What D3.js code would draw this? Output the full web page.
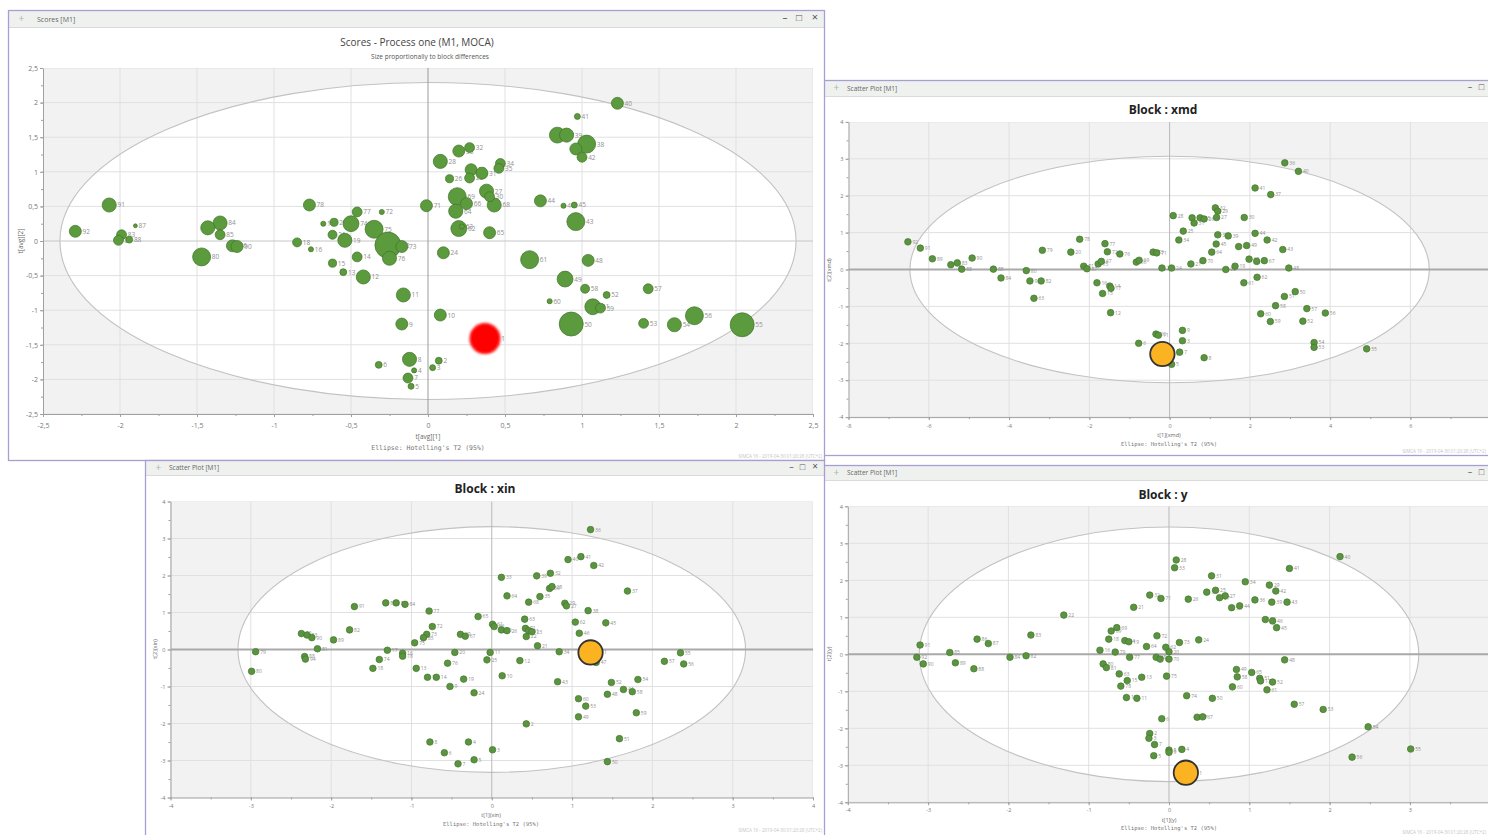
<!DOCTYPE html>
<html><head><meta charset="utf-8">
<script src="https://cdn.jsdelivr.net/npm/d3@7"></script>
<style>
body{margin:0;background:#fff;overflow:hidden}
svg{display:block;font-family:"Open Sans","Noto Sans",sans-serif}
</style>
</head><body>
<svg id="c" width="1488" height="835"></svg>
<script>
// ---------------- DATA ----------------
const highlightSample = "1";

// Main: Scores - Process one (M1, MOCA), t[avg][1] vs t[avg][2], size = block difference
const mainLabels = ["91","92","87","83","89","88","84","79","85","80","86","90","78","18","16","17","20","21","19","74","15","13","14","12","77","72","75","22","76","73","11","9","8","6","4","7","5","71","40","41","37","39","38","36","42","32","33","28","29","31","25","26","34","35","27","69","66","68","30","64","44","47","45","43","62","63","65","24","61","48","49","58","52","57","60","51","59","10","50","53","54","56","55","1","2","3"];
const mainX = [-2.07,-2.29,-1.90,-1.99,-2.01,-1.94,-1.35,-1.43,-1.35,-1.47,-1.27,-1.24,-0.77,-0.85,-0.76,-0.68,-0.61,-0.62,-0.54,-0.50,-0.62,-0.55,-0.46,-0.42,-0.46,-0.30,-0.35,-0.26,-0.25,-0.17,-0.16,-0.17,-0.12,-0.32,-0.09,-0.13,-0.11,-0.01,1.23,0.97,0.84,0.90,1.03,0.96,1.00,0.27,0.20,0.08,0.28,0.35,0.27,0.14,0.47,0.46,0.38,0.19,0.25,0.43,0.40,0.18,0.73,0.88,0.95,0.96,0.20,0.22,0.40,0.10,0.66,1.04,0.89,1.02,1.16,1.43,0.79,1.07,1.12,0.08,0.93,1.40,1.60,1.73,2.04,0.37,0.07,0.03];
const mainY = [0.52,0.14,0.22,0.09,0.01,0.02,0.26,0.19,0.09,-0.23,-0.07,-0.08,0.52,-0.02,-0.12,0.25,0.27,0.09,0.01,0.25,-0.32,-0.45,-0.23,-0.52,0.42,0.42,0.17,-0.06,-0.25,-0.08,-0.78,-1.20,-1.71,-1.79,-1.87,-1.98,-2.10,0.51,1.99,1.80,1.53,1.53,1.40,1.33,1.21,1.35,1.30,1.15,1.03,0.98,0.91,0.90,1.12,1.05,0.72,0.64,0.54,0.52,0.64,0.43,0.58,0.51,0.52,0.28,0.18,0.21,0.12,-0.17,-0.27,-0.28,-0.55,-0.69,-0.78,-0.69,-0.87,-0.95,-0.97,-1.07,-1.20,-1.19,-1.21,-1.08,-1.21,-1.41,-1.73,-1.83];
const mainDiff = [0.47,0.40,0.13,0.33,0.33,0.23,0.47,0.47,0.33,0.60,0.40,0.40,0.40,0.30,0.17,0.17,0.27,0.30,0.47,0.53,0.27,0.23,0.33,0.47,0.33,0.17,0.60,0.87,0.47,0.40,0.47,0.40,0.47,0.23,0.17,0.33,0.20,0.40,0.40,0.20,0.53,0.47,0.60,0.40,0.33,0.33,0.40,0.47,0.40,0.40,0.33,0.27,0.33,0.33,0.47,0.60,0.40,0.47,0.33,0.47,0.40,0.17,0.20,0.60,0.53,0.17,0.40,0.40,0.60,0.40,0.53,0.30,0.23,0.33,0.17,0.53,0.33,0.40,0.80,0.33,0.47,0.60,0.80,1.00,0.23,0.20];

// Block : xmd
const xmdLabels = ["92","91","89","86","83","88","90","85","80","79","20","78","77","72","76","81","87","75","47","66","69","73","71","36","40","41","37","32","29","27","28","33","31","35","26","30","25","34","38","39","44","42","45","46","49","43","64","70","21","65","68","67","48","23","24","22","19","62","84","93","82","63","16","14","17","15","12","61","50","51","58","57","56","60","59","52","9","10","11","3","6","7","8","5","54","53","55","1"];
const xmdX = [-6.52,-6.21,-5.91,-5.45,-5.29,-5.18,-4.92,-4.39,-3.57,-3.17,-2.46,-2.24,-1.61,-1.55,-1.24,-2.14,-2.06,-1.78,-1.70,-0.83,-0.76,-0.41,-0.32,2.87,3.21,2.13,2.52,1.14,1.20,1.17,0.09,0.56,0.61,0.76,0.86,1.86,0.34,0.23,1.20,1.46,2.13,2.43,1.16,1.72,1.92,2.82,1.05,0.83,0.53,1.98,2.17,2.36,2.97,-0.19,0.05,1.40,1.63,2.18,-4.20,-3.48,-3.20,-3.38,-1.81,-1.49,-1.46,-1.67,-1.47,1.85,3.13,2.86,2.64,3.42,3.88,2.27,2.51,3.32,0.32,-0.34,-0.28,0.32,-0.77,0.25,0.86,0.05,3.60,3.60,4.91,-0.18];
const xmdY = [0.75,0.58,0.29,0.13,0.18,0.01,0.31,0.01,-0.03,0.52,0.47,0.82,0.70,0.48,0.42,0.09,0.02,0.15,0.22,0.20,0.25,0.47,0.45,2.89,2.66,2.21,2.03,1.67,1.58,1.41,1.46,1.40,1.26,1.40,1.37,1.41,1.04,0.80,0.94,0.91,0.98,0.80,0.69,0.62,0.65,0.54,0.47,0.24,0.15,0.28,0.22,0.24,0.04,0.04,0.04,0.00,0.09,-0.21,-0.23,-0.31,-0.31,-0.78,-0.36,-0.45,-0.51,-0.65,-1.17,-0.36,-0.60,-0.73,-0.98,-1.06,-1.18,-1.20,-1.41,-1.40,-1.65,-1.75,-1.78,-1.93,-2.00,-2.24,-2.39,-2.57,-1.98,-2.11,-2.15,-2.29];

// Block : xin
const xinLabels = ["91","87","86","84","77","72","73","85","75","82","89","92","83","90","81","79","69","67","65","20","17","16","78","88","94","74","36","41","40","42","37","33","39","32","30","28","64","35","68","29","27","38","63","62","45","46","61","66","70","26","71","31","23","22","21","34","11","55","80","18","13","76","15","14","19","9","24","25","12","10","2","8","4","6","3","7","5","47","43","52","54","44","48","58","60","53","59","49","51","50","57","56","1"];
const xinX = [-1.71,-1.32,-1.19,-1.08,-0.78,-0.74,-0.81,-0.85,-0.96,-1.77,-1.97,-2.37,-2.30,-2.24,-2.17,-2.94,-0.39,-0.33,-0.17,-0.46,-1.30,-1.11,-1.11,-2.33,-2.32,-1.40,1.23,1.11,0.95,1.27,1.69,0.12,0.56,0.73,0.72,0.75,0.19,0.60,0.46,0.91,0.93,1.20,0.41,1.04,1.42,1.09,0.01,0.03,0.12,0.19,0.42,0.46,0.50,0.43,0.57,0.84,-0.02,2.35,-2.99,-1.48,-0.94,-0.55,-0.80,-0.69,-0.35,-0.52,-0.22,-0.06,0.35,0.13,0.43,-0.77,-0.29,-0.59,0.01,-0.42,-0.22,1.30,0.82,1.49,1.82,1.64,1.44,1.75,1.08,1.17,1.80,1.08,1.59,1.44,2.15,2.39,1.23];
const xinY = [1.16,1.26,1.26,1.22,1.04,0.62,0.41,0.32,0.18,0.53,0.26,0.43,0.39,0.32,0.02,-0.06,0.41,0.36,0.89,-0.08,-0.02,-0.10,-0.18,-0.19,-0.26,-0.27,3.24,2.51,2.43,2.27,1.58,1.95,1.99,2.06,1.65,1.70,1.45,1.43,1.28,1.25,1.18,1.05,0.82,0.74,0.72,0.44,0.68,0.62,0.53,0.51,0.57,0.51,0.48,0.35,0.10,-0.06,-0.08,-0.09,-0.59,-0.51,-0.51,-0.37,-0.75,-0.75,-0.80,-1.00,-1.17,-0.28,-0.30,-0.71,-2.01,-2.50,-2.50,-2.79,-2.71,-3.09,-2.98,-0.35,-0.87,-0.89,-0.81,-1.08,-1.21,-1.14,-1.33,-1.53,-1.71,-1.82,-2.41,-3.03,-0.32,-0.39,-0.08];

// Block : y
const yLabels = ["40","41","28","33","31","34","29","42","35","25","27","37","32","71","26","30","44","36","39","43","21","22","38","46","45","91","86","87","83","59","69","72","24","18","14","19","73","64","62","92","90","85","89","88","84","82","16","79","77","68","66","70","20","80","81","63","15","13","75","78","12","11","74","50","6","47","67","2","3","7","5","8","9","4","49","58","65","51","17","52","60","61","48","57","53","54","55","56","1"];
const yX = [2.13,1.50,0.09,0.07,0.53,0.95,1.25,1.33,0.47,0.58,0.70,0.63,-0.24,-0.10,0.24,0.78,0.88,1.07,1.28,1.47,-0.44,-1.31,1.20,1.29,1.34,-3.10,-2.39,-2.25,-1.72,-0.72,-0.65,-0.15,0.37,-0.75,-0.55,-0.50,0.13,-0.28,-0.04,-3.14,-3.06,-2.73,-2.66,-2.43,-1.98,-1.78,-0.86,-0.67,-0.49,-0.16,-0.11,0.00,0.00,-0.82,-0.78,-0.62,-0.52,-0.34,-0.03,-0.60,-0.53,-0.40,0.22,0.54,-0.09,0.35,0.42,-0.24,-0.25,-0.18,-0.19,0.00,0.00,0.16,0.84,0.85,1.03,1.13,1.14,1.29,0.79,1.22,1.44,1.56,1.92,2.48,3.01,2.28,0.21];
const yY = [2.64,2.32,2.55,2.34,2.12,1.96,1.87,1.71,1.68,1.73,1.58,1.53,1.60,1.51,1.49,1.26,1.31,1.47,1.41,1.41,1.27,1.06,0.94,0.90,0.72,0.25,0.41,0.29,0.52,0.63,0.72,0.50,0.39,0.41,0.37,0.34,0.32,0.21,0.19,-0.08,-0.26,0.05,-0.23,-0.39,-0.08,-0.04,0.11,0.06,-0.08,-0.08,-0.13,-0.13,0.07,-0.26,-0.36,-0.53,-0.71,-0.62,-0.59,-0.86,-1.17,-1.19,-1.12,-1.19,-1.74,-1.70,-1.69,-2.14,-2.27,-2.44,-2.74,-2.59,-2.65,-2.57,-0.41,-0.61,-0.49,-0.65,-0.72,-0.75,-0.88,-0.96,-0.15,-1.35,-1.49,-1.96,-2.56,-2.78,-3.20];

// Tick values (labels visible in the picture)
const mainTicks = [-2.5,-2,-1.5,-1,-0.5,0,0.5,1,1.5,2,2.5];
const xmdXTicks = [-8,-6,-4,-2,0,2,4,6];
const subYTicks = [-4,-3,-2,-1,0,1,2,3,4];
const xinXTicks = [-4,-3,-2,-1,0,1,2,3,4];
const yXTicks = [-4,-3,-2,-1,0,1,2,3];
const footerText = "SIMCA 16 - 2019-04-30 01:20:28 (UTC+2)";

// ---------------- DRAWING ----------------
const svg = d3.select('#c');
const defs = svg.append('defs');
defs.append('filter').attr('id','soft').attr('x','-30%').attr('y','-30%').attr('width','160%').attr('height','160%')
  .append('feGaussianBlur').attr('stdDeviation',0.8);
const fmt = v => String(v).replace('.', ',');
const range = (a,b,s) => d3.range(Math.round((b-a)/s)+1).map(i => +(a+i*s).toFixed(4));

function drawWindow(id, o) {
  const g = svg.append('g');
  defs.append('clipPath').attr('id','w'+id).append('rect')
    .attr('x',o.win.x).attr('y',o.win.y).attr('width',o.win.w).attr('height',o.win.h);
  const w = g.append('g').attr('clip-path',`url(#w${id})`);
  w.append('rect').attr('x',o.win.x).attr('y',o.win.y).attr('width',o.win.w).attr('height',o.win.h).attr('fill','#fff');
  // title bar
  w.append('rect').attr('x',o.win.x).attr('y',o.win.y).attr('width',o.win.w).attr('height',o.barH).attr('fill','#eff1ef');
  w.append('line').attr('x1',o.win.x).attr('x2',o.win.x+o.win.w).attr('y1',o.win.y+o.barH).attr('y2',o.win.y+o.barH).attr('stroke','#dadada');
  w.append('text').attr('x',o.win.x+10).attr('y',o.win.y+o.barH*0.68).attr('font-size',10).attr('fill','#a8b8a8').text('+');
  w.append('text').attr('x',o.barText[0]).attr('y',o.barText[1]).attr('font-size',o.barFs).attr('fill','#666').text(o.winTitle);
  o.controls.forEach(c => w.append('text').attr('x',c[0]).attr('y',c[1]).attr('text-anchor','middle')
    .attr('font-size',c[3]).attr('fill','#555').text(c[2]));

  const x = d3.scaleLinear().domain(o.xDom).range([o.plot.l,o.plot.r]);
  const y = d3.scaleLinear().domain(o.yDom).range([o.plot.b,o.plot.t]);
  defs.append('clipPath').attr('id','p'+id).append('rect')
    .attr('x',o.plot.l).attr('y',o.plot.t).attr('width',o.plot.r-o.plot.l).attr('height',o.plot.b-o.plot.t);
  const p = w.append('g').attr('clip-path',`url(#p${id})`);
  p.append('rect').attr('x',o.plot.l).attr('y',o.plot.t).attr('width',o.plot.r-o.plot.l).attr('height',o.plot.b-o.plot.t).attr('fill','#f2f2f2');
  p.append('ellipse').attr('cx',x(0)).attr('cy',y(0)).attr('rx',x(o.ell[0])-x(0)).attr('ry',y(0)-y(o.ell[1]))
    .attr('fill','#fff');
  // grid
  p.selectAll('.gx').data(o.xGrid.filter(v=>v!==0)).join('line').attr('x1',d=>x(d)).attr('x2',d=>x(d))
    .attr('y1',o.plot.t).attr('y2',o.plot.b).attr('stroke','#e0e0e0').attr('stroke-width',1);
  p.selectAll('.gy').data(o.yTicks.filter(v=>v!==0)).join('line').attr('y1',d=>y(d)).attr('y2',d=>y(d))
    .attr('x1',o.plot.l).attr('x2',o.plot.r).attr('stroke','#e0e0e0').attr('stroke-width',1);
  p.append('ellipse').attr('cx',x(0)).attr('cy',y(0)).attr('rx',x(o.ell[0])-x(0)).attr('ry',y(0)-y(o.ell[1]))
    .attr('fill','none').attr('stroke','#c2c2c2').attr('stroke-width',1.1);
  // zero lines
  p.append('line').attr('x1',o.plot.l).attr('x2',o.plot.r).attr('y1',y(0)).attr('y2',y(0))
    .attr('stroke',o.zeroH[0]).attr('stroke-width',o.zeroH[1]);
  p.append('line').attr('x1',x(0)).attr('x2',x(0)).attr('y1',o.plot.t).attr('y2',o.plot.b)
    .attr('stroke',o.zeroV[0]).attr('stroke-width',o.zeroV[1]);

  // points
  const idx = d3.range(o.labels.length);
  const rOf = i => o.labels[i] === highlightSample ? o.hiR(i) : o.r(i);
  const normal = idx.filter(i => o.labels[i] !== highlightSample);
  const hi = idx.filter(i => o.labels[i] === highlightSample);
  p.selectAll('.lab').data(idx).join('text')
    .attr('x', i => x(o.xs[i]) + rOf(i) + 1.2)
    .attr('y', i => y(o.ys[i]) + o.labFs*0.38)
    .attr('font-size', o.labFs).attr('fill','#8f8f8f').text(i => o.labels[i]);
  p.selectAll('.pt').data(normal).join('circle')
    .attr('cx', i => x(o.xs[i])).attr('cy', i => y(o.ys[i])).attr('r', rOf)
    .attr('fill', o.ptFill).attr('stroke', o.ptStroke).attr('stroke-width', 0.7);
  p.selectAll('.hp').data(hi).join('circle')
    .attr('cx', i => x(o.xs[i])).attr('cy', i => y(o.ys[i])).attr('r', rOf)
    .attr('fill', o.hiFill).attr('stroke', o.hiStroke).attr('stroke-width', o.hiSw)
    .attr('filter', o.hiSoft ? 'url(#soft)' : null);

  // axes
  const styleAxis = (sel, fs) => {
    sel.attr('font-size', fs).attr('font-family','"Open Sans","Noto Sans",sans-serif');
    sel.select('.domain').attr('stroke','#a0a0a0');
    sel.selectAll('line').attr('stroke','#a0a0a0');
    sel.selectAll('text').attr('fill','#777');
  };
  const xa = w.append('g').attr('transform',`translate(0,${o.plot.b})`);
  xa.call(d3.axisBottom(x).tickValues(o.xMinor).tickFormat('').tickSize(2).tickSizeOuter(0)); styleAxis(xa, o.tickFs);
  const xa2 = w.append('g').attr('transform',`translate(0,${o.plot.b})`);
  xa2.call(d3.axisBottom(x).tickValues(o.xTicks).tickFormat(fmt).tickSize(3).tickSizeOuter(0).tickPadding(o.xPad));
  styleAxis(xa2, o.tickFs); xa2.select('.domain').remove();
  const ya = w.append('g').attr('transform',`translate(${o.plot.l},0)`);
  ya.call(d3.axisLeft(y).tickValues(o.yMinor).tickFormat('').tickSize(2).tickSizeOuter(0)); styleAxis(ya, o.tickFs);
  const ya2 = w.append('g').attr('transform',`translate(${o.plot.l},0)`);
  ya2.call(d3.axisLeft(y).tickValues(o.yTicks).tickFormat(fmt).tickSize(3).tickSizeOuter(0).tickPadding(o.yPad));
  styleAxis(ya2, o.tickFs); ya2.select('.domain').remove();

  // titles
  o.titles.forEach(t => w.append('text').attr('x',t.x).attr('y',t.y).attr('text-anchor','middle')
    .attr('font-size',t.fs).attr('font-weight',t.bold?'bold':'normal').attr('fill',t.fill||'#444')
    .attr('font-family', t.mono ? '"DejaVu Sans Mono",monospace' : null).text(t.text));
  w.append('text').attr('transform',`translate(${o.yLab[0]},${o.yLab[1]}) rotate(-90)`).attr('text-anchor','middle')
    .attr('font-size',o.yLab[2]).attr('fill','#666').text(o.yLab[3]);
  w.append('text').attr('x',o.footer[0]).attr('y',o.footer[1]).attr('text-anchor','end')
    .attr('font-size',4.5).attr('fill','#c4c4c4').text(footerText);
  // frame
  g.append('rect').attr('x',o.win.x).attr('y',o.win.y).attr('width',o.win.w).attr('height',o.win.h)
    .attr('fill','none').attr('stroke','#a89ecf').attr('stroke-width',1.3);
}

const rMain = d3.scaleLinear().domain([0,1]).range([0,15]);
const subR = 3.3, subHiR = 12.2;

// Panel: Block : xmd
drawWindow('xmd', {
  win:{x:823.5,y:80.5,w:680,h:375}, barH:16, winTitle:'Scatter Plot [M1]', barText:[847,91], barFs:6.5,
  controls:[[1470,90,'–',9],[1481.5,90,'□',9]],
  plot:{l:848.5,r:1490.7,t:121.9,b:417.1}, xDom:[-8,8], yDom:[-4,4],
  xTicks:xmdXTicks, xGrid:[-6,-4,-2,2,4,6,8], yTicks:subYTicks, xMinor:range(-8,7,1), yMinor:range(-4,4,0.5),
  ell:[6.47,3.07], zeroH:['#a9a9a9',2], zeroV:['#b8b8b8',1],
  labels:xmdLabels, xs:xmdX, ys:xmdY, r:()=>subR, hiR:()=>subHiR, labFs:5,
  ptFill:'#5b9440', ptStroke:'#44782c', hiFill:'#fbb321', hiStroke:'#333', hiSw:1.8, hiSoft:false,
  tickFs:5.5, xPad:4, yPad:2,
  titles:[{x:1163,y:114,fs:12,bold:true,text:'Block : xmd',fill:'#222'},
          {x:1169,y:437,fs:5.5,text:'t[1](xmd)',fill:'#666'},
          {x:1169,y:446,fs:5.5,text:"Ellipse: Hotelling's T2 (95%)",mono:true,fill:'#777'}],
  yLab:[831,270,5.5,'t[2](xmd)'], footer:[1486,453]
});

// Panel: Block : y
drawWindow('y', {
  win:{x:823.5,y:465.5,w:680,h:380}, barH:15, winTitle:'Scatter Plot [M1]', barText:[847,475], barFs:6.5,
  controls:[[1470,475,'–',9],[1481.5,475,'□',9]],
  plot:{l:847.8,r:1490.2,t:506.3,b:802.3}, xDom:[-4,4], yDom:[-4,4],
  xTicks:yXTicks, xGrid:[-3,-2,-1,1,2,3,4], yTicks:subYTicks, xMinor:range(-4,3.5,0.5), yMinor:range(-4,4,0.5),
  ell:[3.11,3.44], zeroH:['#a9a9a9',2], zeroV:['#b8b8b8',1],
  labels:yLabels, xs:yX, ys:yY, r:()=>subR, hiR:()=>subHiR, labFs:5,
  ptFill:'#5b9440', ptStroke:'#44782c', hiFill:'#fbb321', hiStroke:'#333', hiSw:1.8, hiSoft:false,
  tickFs:5.5, xPad:3, yPad:2,
  titles:[{x:1163,y:499,fs:12,bold:true,text:'Block : y',fill:'#222'},
          {x:1169,y:822,fs:5.5,text:'t[1](y)',fill:'#666'},
          {x:1169,y:830,fs:5.5,text:"Ellipse: Hotelling's T2 (95%)",mono:true,fill:'#777'}],
  yLab:[831,654,5.5,'t[2](y)'], footer:[1486,834]
});

// Main panel
drawWindow('main', {
  win:{x:8.5,y:10.5,w:816,h:450}, barH:17, winTitle:'Scores [M1]', barText:[37,22], barFs:7,
  controls:[[785,21,'–',10],[799,21,'□',10],[815,21,'×',11]],
  plot:{l:43,r:813,t:68,b:414}, xDom:[-2.5,2.5], yDom:[-2.5,2.5],
  xTicks:mainTicks, xGrid:mainTicks, yTicks:mainTicks, xMinor:range(-2.5,2.5,0.25), yMinor:range(-2.5,2.5,0.25),
  ell:[2.39,2.29], zeroH:['#c6c6c6',1], zeroV:['#9a9a9a',1],
  labels:mainLabels, xs:mainX, ys:mainY, r:i=>rMain(mainDiff[i]), hiR:i=>rMain(mainDiff[i]), labFs:6.5,
  ptFill:'#5c9a3e', ptStroke:'#3f7428', hiFill:'#ff0000', hiStroke:'#ff3030', hiSw:1.5, hiSoft:true,
  tickFs:7, xPad:6, yPad:2,
  titles:[{x:417,y:46,fs:10,text:'Scores - Process one (M1, MOCA)',fill:'#444'},
          {x:430,y:58.5,fs:6.5,text:'Size proportionally to block differences',fill:'#555'},
          {x:428,y:439,fs:6.5,text:'t[avg][1]',fill:'#666'},
          {x:428,y:450,fs:6.5,text:"Ellipse: Hotelling's T2 (95%)",mono:true,fill:'#777'}],
  yLab:[23,241,6.5,'t[avg][2]'], footer:[822,458]
});

// Panel: Block : xin
drawWindow('xin', {
  win:{x:145.5,y:460.5,w:679,h:385}, barH:15, winTitle:'Scatter Plot [M1]', barText:[169,470], barFs:6.5,
  controls:[[791.5,470,'–',9],[802.5,470,'□',9],[815,470,'×',10]],
  plot:{l:170.5,r:813,t:501.5,b:797.5}, xDom:[-4,4], yDom:[-4,4],
  xTicks:xinXTicks, xGrid:xinXTicks, yTicks:subYTicks, xMinor:range(-4,4,0.5), yMinor:range(-4,4,0.5),
  ell:[3.16,3.32], zeroH:['#a9a9a9',2], zeroV:['#b8b8b8',1],
  labels:xinLabels, xs:xinX, ys:xinY, r:()=>subR, hiR:()=>subHiR, labFs:5,
  ptFill:'#5b9440', ptStroke:'#44782c', hiFill:'#fbb321', hiStroke:'#333', hiSw:1.8, hiSoft:false,
  tickFs:5.5, xPad:3.5, yPad:2,
  titles:[{x:485,y:493,fs:12,bold:true,text:'Block : xin',fill:'#222'},
          {x:491,y:817,fs:5.5,text:'t[1](xin)',fill:'#666'},
          {x:491,y:826,fs:5.5,text:"Ellipse: Hotelling's T2 (95%)",mono:true,fill:'#777'}],
  yLab:[157,649,5.5,'t[2](xin)'], footer:[822,832]
});
</script>
</body></html>
